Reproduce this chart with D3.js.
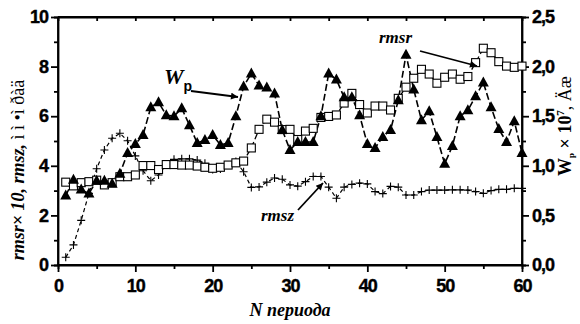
<!DOCTYPE html>
<html>
<head>
<meta charset="utf-8">
<script src="https://cdn.jsdelivr.net/npm/d3@7"></script>
<style>
  body { margin: 0; background: #fff; }
  .tick text { font-family: "Liberation Sans", Arial, sans-serif; font-weight: bold; font-size: 18px; letter-spacing: -1px; fill: #000; stroke: #000; stroke-width: 0.4px; }
  .axis path, .axis line { stroke: #000; stroke-width: 1.8; }
  .ttl { font-family: "Liberation Serif", "Times New Roman", serif; font-weight: bold; fill: #000; }
</style>
</head>
<body>
<svg id="chart" width="580" height="324"></svg>
<script>
// period numbers 1..60
const periods = d3.range(1, 61);

// rmsr x 10 (open squares, left axis)
const rmsrX10 = [3.34, 3.19, 3.32, 3.36, 3.42, 3.23, 3.32, 3.56, 3.56, 3.63,
  4.01, 4.01, 3.85, 4.05, 4.05, 4.03, 4.03, 3.99, 3.94, 3.90,
  3.94, 4.03, 4.12, 4.19, 4.72, 5.47, 5.88, 5.76, 5.46, 5.47,
  5.06, 5.40, 5.51, 5.95, 5.99, 6.05, 6.53, 6.92, 6.47, 6.13,
  6.41, 6.41, 6.25, 6.72, 7.17, 7.53, 7.89, 7.70, 7.33, 7.57,
  7.70, 7.49, 7.60, 8.16, 8.74, 8.56, 8.20, 8.02, 7.97, 8.02];

// rmsz (crosses, left axis)
const rmsz = [0.31, 0.81, 1.80, 2.89, 3.88, 4.64, 5.11, 5.31, 5.01, 4.40,
  3.80, 3.40, 3.63, 4.05, 4.26, 4.28, 4.28, 4.23, 4.10, 3.85,
  3.87, 4.03, 4.17, 3.76, 3.13, 3.15, 3.34, 3.51, 3.46, 3.23,
  3.18, 3.36, 3.57, 3.57, 3.14, 2.69, 3.14, 3.25, 3.30, 3.27,
  2.96, 2.88, 3.17, 3.14, 2.82, 2.82, 2.96, 3.02, 3.02, 3.02,
  3.03, 3.03, 3.02, 2.96, 2.89, 3.00, 3.05, 3.05, 3.09, 3.09];

// Wp x 10^7 (filled triangles, right axis)
const wp = [0.70, 0.86, 0.76, 0.72, 0.85, 0.85, 0.82, 0.92, 1.13, 1.22,
  1.31, 1.59, 1.64, 1.51, 1.50, 1.58, 1.41, 1.23, 1.26, 1.31,
  1.21, 1.23, 1.50, 1.80, 1.93, 1.81, 1.79, 1.73, 1.36, 1.16,
  1.24, 1.24, 1.24, 1.50, 1.93, 1.87, 1.69, 1.69, 1.51, 1.22,
  1.18, 1.29, 1.36, 1.66, 2.12, 1.77, 1.46, 1.55, 1.29, 1.02,
  1.20, 1.50, 1.56, 1.70, 1.84, 1.59, 1.37, 1.24, 1.45, 1.13];

const xTicks = [0, 10, 20, 30, 40, 50, 60];
const leftTicks = [0, 2, 4, 6, 8, 10];
const rightTicks = [0, 0.5, 1.0, 1.5, 2.0, 2.5];

const svg = d3.select('#chart');
const margin = { left: 58, right: 522, top: 17, bottom: 265 };

const x = d3.scaleLinear().domain([0, 60]).range([margin.left, margin.right]);
const yL = d3.scaleLinear().domain([0, 10]).range([margin.bottom, margin.top]);
const yR = d3.scaleLinear().domain([0, 2.5]).range([margin.bottom, margin.top]);

// minor ticks first so the major ones draw over them
svg.append('g').attr('class', 'axis').attr('transform', `translate(0,${margin.bottom})`)
  .call(d3.axisBottom(x).tickValues(d3.range(5, 60, 10)).tickSize(4).tickFormat(''));
svg.append('g').attr('class', 'axis').attr('transform', `translate(${margin.left},0)`)
  .call(d3.axisLeft(yL).tickValues(d3.range(1, 10, 2)).tickSize(4).tickFormat(''));
svg.append('g').attr('class', 'axis').attr('transform', `translate(${margin.right},0)`)
  .call(d3.axisRight(yR).tickValues(d3.range(0.25, 2.5, 0.5)).tickSize(4).tickFormat(''));
svg.append('g').attr('class', 'axis').attr('transform', `translate(0,${margin.top})`)
  .call(d3.axisTop(x).tickValues(d3.range(5, 60, 5)).tickSize(-4).tickFormat(''));

const xAxis = svg.append('g').attr('class', 'axis').attr('transform', `translate(0,${margin.bottom})`)
  .call(d3.axisBottom(x).tickValues(xTicks).tickSize(7).tickPadding(4).tickFormat(d3.format('d')));
const yAxisL = svg.append('g').attr('class', 'axis').attr('transform', `translate(${margin.left},0)`)
  .call(d3.axisLeft(yL).tickValues(leftTicks).tickSize(7).tickPadding(3).tickFormat(d3.format('d')));
const yAxisR = svg.append('g').attr('class', 'axis').attr('transform', `translate(${margin.right},0)`)
  .call(d3.axisRight(yR).tickValues(rightTicks).tickSize(7).tickPadding(3)
    .tickFormat(d => d3.format('.1f')(d).replace('.', ',')));
xAxis.selectAll('text').attr('dy', '0.9em');
yAxisL.selectAll('.domain').attr('d', `M0,${margin.bottom}V${margin.top}`);
yAxisR.selectAll('.domain').attr('d', `M0,${margin.bottom}V${margin.top}`);
xAxis.selectAll('.domain').attr('d', `M${margin.left},0H${margin.right}`);
svg.append('line').attr('x1', margin.left).attr('x2', margin.right)
  .attr('y1', margin.top).attr('y2', margin.top)
  .attr('stroke', '#000').attr('stroke-width', 1.8);

// lines
const lineL = d3.line().x((d, i) => x(periods[i])).y(d => yL(d));
const lineR = d3.line().x((d, i) => x(periods[i])).y(d => yR(d));

svg.append('path').datum(rmsz).attr('d', lineL)
  .attr('fill', 'none').attr('stroke', '#000').attr('stroke-width', 1.2).attr('stroke-dasharray', '4,3');
svg.append('path').datum(rmsrX10).attr('d', lineL)
  .attr('fill', 'none').attr('stroke', '#000').attr('stroke-width', 1.3).attr('stroke-dasharray', '6,3');
svg.append('path').datum(wp).attr('d', lineR)
  .attr('fill', 'none').attr('stroke', '#000').attr('stroke-width', 1.6).attr('stroke-dasharray', '7,3');

// markers
svg.append('g').selectAll('path').data(rmsz).join('path')
  .attr('transform', (d, i) => `translate(${x(periods[i])},${yL(d)})`)
  .attr('d', 'M-4,0H4M0,-4V4').attr('stroke', '#000').attr('stroke-width', 1.1);

svg.append('g').selectAll('rect').data(rmsrX10).join('rect')
  .attr('x', (d, i) => x(periods[i]) - 4).attr('y', d => yL(d) - 4)
  .attr('width', 8).attr('height', 8)
  .attr('fill', '#fff').attr('stroke', '#000').attr('stroke-width', 1.1);

svg.append('g').selectAll('path').data(wp).join('path')
  .attr('transform', (d, i) => `translate(${x(periods[i])},${yR(d)})`)
  .attr('d', 'M0,-6L5.5,4H-5.5Z').attr('fill', '#000');

// annotations
const arrow = svg.append('defs').append('marker').attr('id', 'ah')
  .attr('viewBox', '0 0 10 10').attr('refX', 10).attr('refY', 5)
  .attr('markerWidth', 9).attr('markerHeight', 7).attr('orient', 'auto')
  .attr('markerUnits', 'userSpaceOnUse');
arrow.append('path').attr('d', 'M0,0L10,5L0,10Z').attr('fill', '#000');

function note(x1, y1, x2, y2) {
  svg.append('line').attr('x1', x1).attr('y1', y1).attr('x2', x2).attr('y2', y2)
    .attr('stroke', '#000').attr('stroke-width', 1.8).attr('marker-end', 'url(#ah)');
}

const wLabel = svg.append('text').attr('class', 'ttl').attr('x', 164).attr('y', 84)
  .style('font-size', '22px').style('font-style', 'italic');
wLabel.append('tspan').text('W');
wLabel.append('tspan').attr('dy', 7).attr('dx', 0)
  .style('font-family', '"Liberation Sans", Arial, sans-serif').style('font-style', 'normal')
  .style('font-size', '14px').text('p');
note(191, 91, 238, 97);

svg.append('text').attr('class', 'ttl').attr('x', 379).attr('y', 43)
  .style('font-size', '17px').style('font-style', 'italic').text('rmsr');
note(420, 51, 477, 66);

svg.append('text').attr('class', 'ttl').attr('x', 261).attr('y', 221)
  .style('font-size', '17px').style('font-style', 'italic').text('rmsz');
note(298, 210, 323, 183);

// axis titles
svg.append('text').attr('class', 'ttl').attr('x', 290).attr('y', 316)
  .attr('text-anchor', 'middle').style('font-size', '18px').style('font-style', 'italic')
  .text('N периода');

const lt = svg.append('text').attr('class', 'ttl')
  .attr('transform', 'translate(24,170) rotate(-90)').attr('text-anchor', 'middle')
  .style('font-size', '18px');
lt.append('tspan').style('font-style', 'italic').text('rmsr× 10, rmsz, ');
lt.append('tspan').style('font-weight', 'normal').text('ì ì •ì ðàä');

const rt = svg.append('text').attr('class', 'ttl')
  .attr('transform', 'translate(571,126) rotate(-90)').attr('text-anchor', 'middle')
  .style('font-size', '18px');
rt.append('tspan').text('W');
rt.append('tspan').attr('dy', 3).style('font-size', '9px').text('p');
rt.append('tspan').attr('dy', -3).text(' × 10');
rt.append('tspan').attr('dy', -7).style('font-size', '11px').text('7');
rt.append('tspan').attr('dy', 7).style('font-weight', 'normal').text(', Äæ');
</script>
</body>
</html>
